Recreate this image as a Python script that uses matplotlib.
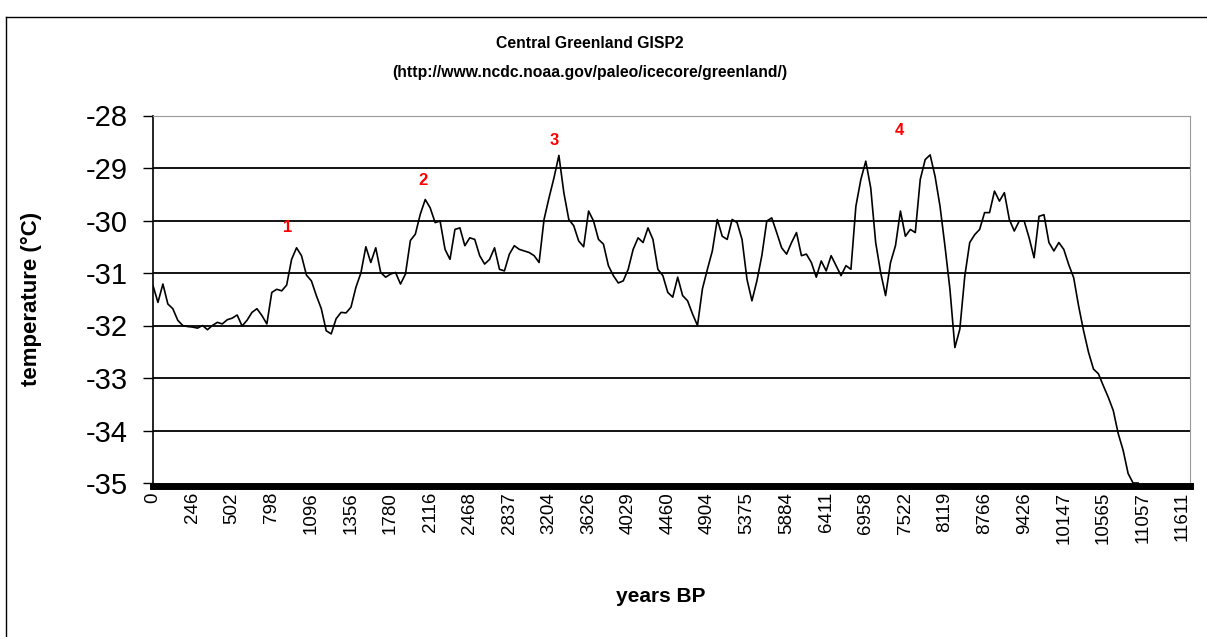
import matplotlib
matplotlib.use("Agg")
import matplotlib.pyplot as plt
from matplotlib.lines import Line2D

plt.rcParams['font.family'] = ['Liberation Sans', 'DejaVu Sans']

# GISP2 temperature, sampled at equal category steps (8 samples per labelled year)
temps = [
    -31.24, -31.56, -31.21, -31.59, -31.68, -31.90, -32.00, -32.02, -32.03, -32.05,
    -32.00, -32.08, -32.00, -31.94, -31.97, -31.89, -31.86, -31.80, -32.01, -31.90,
    -31.75, -31.68, -31.81, -31.97, -31.37, -31.31, -31.34, -31.23, -30.74, -30.52,
    -30.67, -31.04, -31.15, -31.43, -31.68, -32.10, -32.16, -31.87, -31.75, -31.76,
    -31.65, -31.27, -31.00, -30.50, -30.80, -30.52, -30.99, -31.08, -31.02, -30.99,
    -31.21, -31.02, -30.38, -30.26, -29.88, -29.60, -29.76, -30.04, -30.01, -30.55,
    -30.74, -30.17, -30.14, -30.48, -30.33, -30.36, -30.67, -30.83, -30.74, -30.52,
    -30.93, -30.96, -30.64, -30.48, -30.55, -30.58, -30.61, -30.67, -30.80, -29.98,
    -29.57, -29.19, -28.76, -29.47, -29.98, -30.10, -30.39, -30.50, -29.82, -30.01,
    -30.36, -30.45, -30.86, -31.05, -31.19, -31.15, -30.93, -30.55, -30.33, -30.42,
    -30.14, -30.36, -30.93, -31.05, -31.37, -31.46, -31.08, -31.43, -31.53, -31.78,
    -32.00, -31.30, -30.93, -30.58, -29.98, -30.30, -30.36, -29.98, -30.04, -30.36,
    -31.12, -31.53, -31.15, -30.67, -30.01, -29.95, -30.23, -30.52, -30.64, -30.42,
    -30.23, -30.67, -30.64, -30.80, -31.08, -30.77, -30.96, -30.67, -30.86, -31.05,
    -30.86, -30.93, -29.73, -29.22, -28.87, -29.38, -30.42, -30.99, -31.43, -30.80,
    -30.48, -29.82, -30.30, -30.17, -30.23, -29.22, -28.84, -28.75, -29.16, -29.73,
    -30.49, -31.31, -32.42, -32.07, -31.06, -30.42, -30.27, -30.17, -29.85, -29.85,
    -29.44, -29.63, -29.47, -29.98, -30.20, -30.01, -30.01, -30.33, -30.71, -29.92,
    -29.89, -30.42, -30.58, -30.42, -30.55, -30.84, -31.09, -31.63, -32.10, -32.51,
    -32.83, -32.92, -33.15, -33.37, -33.62, -34.06, -34.38, -34.82, -35.00, -35.00,
]

year_labels = ["0", "246", "502", "798", "1096", "1356", "1780", "2116", "2468",
               "2837", "3204", "3626", "4029", "4460", "4904", "5375", "5884",
               "6411", "6958", "7522", "8119", "8766", "9426", "10147", "10565",
               "11057", "11611"]
label_step = 8

peak_names = ["1", "2", "3", "4"]
peak_x = [27.1, 54.5, 81.0, 150.7]
peak_y = [-30.13, -29.24, -28.48, -28.29]

fig = plt.figure(figsize=(12.07, 6.37), dpi=100)
ax = fig.add_axes([153/1207, 1 - 483/637, (1190 - 153)/1207, (483 - 115.5)/637])

# spine position first: it resets the tick setup
ax.spines["top"].set_color("#999999")
ax.spines["right"].set_color("#999999")
ax.spines["left"].set_linewidth(1.2)
ax.spines["bottom"].set_linewidth(5)
ax.spines["bottom"].set_position(("outward", 2.5))

for t in range(-34, -28):
    ax.axhline(t, color="black", lw=1.3, zorder=1)

ax.plot(range(len(temps)), temps, color="black", lw=1.2, zorder=3)

for name, px, py in zip(peak_names, peak_x, peak_y):
    ax.text(px, py, name, color="red", fontsize=12, fontweight="bold",
            ha="center", va="center")

ax.set_xlim(0, 209.5)
ax.set_ylim(-35, -28)
ax.set_yticks(range(-35, -27))
ax.set_yticklabels([str(t) for t in range(-35, -27)], fontsize=21)
ax.tick_params(axis="y", length=7, width=1, pad=11, direction="out")

ax.set_xticks([i * label_step for i in range(len(year_labels))])
ax.set_xticklabels(year_labels, rotation=90, fontsize=13.5)
ax.tick_params(axis="x", length=0, pad=4)

ax.set_ylabel("temperature (°C)", fontsize=16, fontweight="bold")
ax.yaxis.set_label_coords(-0.107, 0.5)
ax.set_xlabel("years BP", fontsize=15, fontweight="bold")
ax.xaxis.set_label_coords(0.49, -0.283)

fig.text(590/1207, 1 - 43/637, "Central Greenland GISP2", fontsize=11.3,
         fontweight="bold", ha="center", va="center")
fig.text(590/1207, 1 - 72/637, "(http://www.ncdc.noaa.gov/paleo/icecore/greenland/)",
         fontsize=11.3, fontweight="bold", ha="center", va="center")

# chart area frame
fig.add_artist(Line2D([6/1207, 1], [1 - 17/637, 1 - 17/637], color="black", lw=1))
fig.add_artist(Line2D([6/1207, 6/1207], [0, 1 - 17/637], color="black", lw=1))

fig.savefig("out.png", dpi=100)
